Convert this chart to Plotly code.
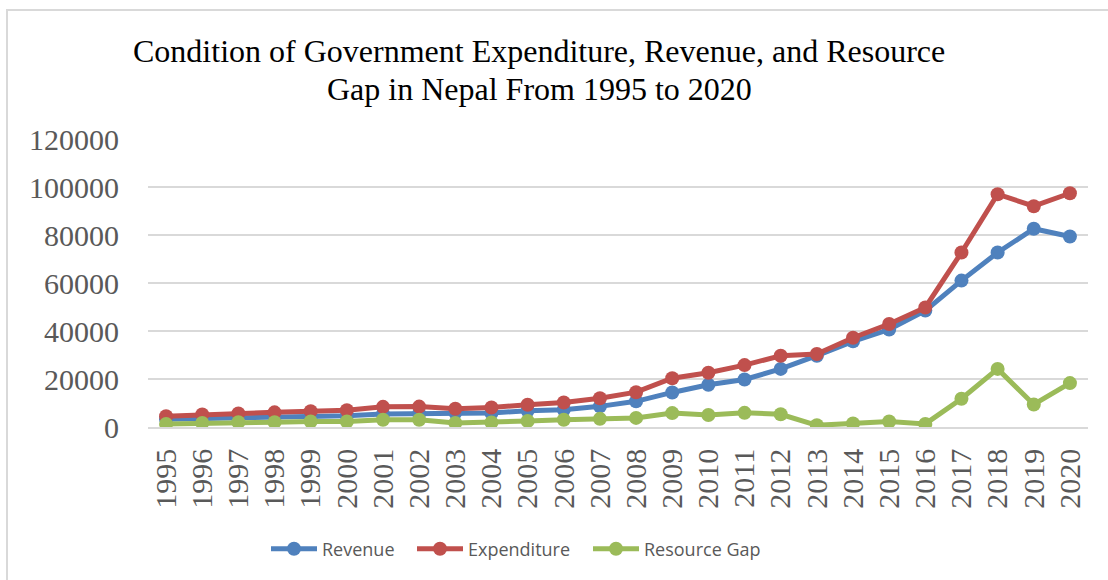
import plotly.graph_objects as go

years = [str(y) for y in range(1995, 2021)]
revenue = [3200, 3500, 3600, 4100, 4300, 4700, 5400, 5500, 5900, 5800,
           6800, 7200, 8600, 10700, 14400, 17600, 19800, 24200, 29700, 35700,
           40600, 48500, 61000, 72700, 82600, 79400]
expenditure = [4500, 5200, 5600, 6100, 6600, 7000, 8400, 8500, 7600, 8100,
               9300, 10200, 12000, 14500, 20300, 22600, 25800, 29700, 30400, 37200,
               42900, 49800, 72700, 97000, 92000, 97400]
resource_gap = [1300, 1700, 2000, 2000, 2300, 2300, 3000, 3000, 1700, 1900,
                2500, 3000, 3400, 3800, 5800, 5000, 5900, 5300, 700, 1500,
                2300, 1300, 11800, 24200, 9400, 18300]
y_ticks = [0, 20000, 40000, 60000, 80000, 100000, 120000]
title_lines = ["Condition of Government Expenditure, Revenue, and Resource",
               "Gap in Nepal From 1995 to 2020"]

series = [
    ("Revenue", revenue, "#4F81BD", 85),
    ("Expenditure", expenditure, "#C0504D", 115),
    ("Resource Gap", resource_gap, "#9BBB59", 118),
]

# plot area in pixels: x 148..1088, y 139..427
PL, PR, PT, PB = 148, 1088, 139, 427
def px(x):
    return (x - PL) / (PR - PL)
def py(y):
    return (PB - y) / (PB - PT)

fig = go.Figure()
for name, vals, color, lw in series:
    fig.add_trace(go.Scatter(
        x=years, y=vals, name=name, mode="lines+markers",
        line=dict(color=color, width=5),
        marker=dict(color=color, size=14),
        legendwidth=lw,
    ))

fig.update_layout(
    width=1108, height=580,
    margin=dict(l=PL, r=1108 - PR, t=PT, b=580 - PB),
    paper_bgcolor="white", plot_bgcolor="white",
    legend=dict(
        orientation="h", x=px(266), xanchor="left",
        y=py(549), yanchor="middle",
        font=dict(family="Open Sans", size=18, color="#595959"),
        itemwidth=46, traceorder="normal",
    ),
    showlegend=True,
)
for i, line in enumerate(title_lines):
    fig.add_annotation(
        text=line, xref="paper", yref="paper",
        x=px(539), y=py([51, 89][i]), xanchor="center", yanchor="middle",
        showarrow=False,
        font=dict(family="Liberation Serif", size=32, color="black"),
    )
fig.update_xaxes(
    type="category", range=[-0.5, len(years) - 0.5],
    tickangle=-90, showgrid=False, ticks="",
    tickfont=dict(family="Liberation Serif", size=30, color="#595959"),
    ticklabelstandoff=8,
    showline=True, linecolor="#D9D9D9", linewidth=1.5,
)
fig.update_yaxes(
    range=[0, 120000], tickvals=y_ticks, ticktext=[str(v) for v in y_ticks],
    showgrid=True, gridcolor="#D9D9D9", gridwidth=1.5,
    zeroline=True, zerolinecolor="#D9D9D9", zerolinewidth=1.5,
    ticks="", showline=False,
    tickfont=dict(family="Liberation Serif", size=30, color="#595959"),
    ticklabelstandoff=28,
)
# outer chart border (top and left visible in the reference)
fig.add_shape(type="rect", xref="paper", yref="paper",
              x0=px(7), x1=px(1120), y0=py(600), y1=py(10),
              line=dict(color="#D9D9D9", width=2), fillcolor="rgba(0,0,0,0)",
              layer="below")

fig.write_html("out.html", config={"displayModeBar": False},
               post_script="document.body.style.margin='0';")
